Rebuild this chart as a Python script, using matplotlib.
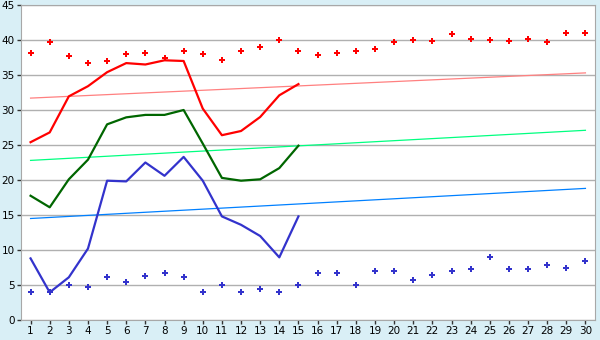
import numpy as np
import matplotlib
matplotlib.use('Agg')
import matplotlib.pyplot as plt

days = list(range(1, 31))
days15 = list(range(1, 16))

red_pts = [38.1, 39.7, 37.7, 36.7, 37.0, 38.0, 38.1, 37.5, 38.4, 38.0,
           37.2, 38.5, 39.0, 40.0, 38.4, 37.8, 38.1, 38.4, 38.7, 39.7,
           40.0, 39.8, 40.8, 40.1, 40.0, 39.8, 40.1, 39.7, 40.95, 40.95]
blue_pts = [4.0, 4.0, 5.0, 4.7, 6.1, 5.4, 6.25, 6.7, 6.1, 4.0,
            5.0, 4.0, 4.5, 4.0, 5.0, 6.7, 6.7, 5.0, 6.95, 6.95,
            5.7, 6.4, 6.95, 7.25, 8.95, 7.25, 7.25, 7.8, 7.4, 8.5]

red_line = [25.4, 26.8, 31.95, 33.4, 35.4, 36.7, 36.5, 37.1, 37.0, 30.2,
            26.4, 27.0, 29.0, 32.1, 33.7]
green_line = [17.75, 16.1, 20.1, 22.9, 27.95, 28.95, 29.3, 29.3, 30.0, 25.2,
              20.3, 19.9, 20.1, 21.7, 24.9]
blue_line = [8.8, 3.95, 6.1, 10.2, 19.9, 19.8, 22.5, 20.6, 23.3, 19.9,
             14.8, 13.6, 12.0, 8.95, 14.8]

# trend lines, value at day 1 and day 30
trend_x = [1, 30]
red_trend = [31.7, 35.3]
green_trend = [22.8, 27.1]
blue_trend = [14.5, 18.8]

bg = '#d9eff6'
fig = plt.figure(figsize=(6, 3.4), dpi=100, facecolor=bg)
ax = fig.add_axes([21 / 600, 20 / 340, 574 / 600, 315 / 340])
ax.set_facecolor('white')

ax.plot(trend_x, red_trend, color='#ff8080', lw=0.9, zorder=2)
ax.plot(trend_x, green_trend, color='#00ff80', lw=0.9, zorder=2)
ax.plot(trend_x, blue_trend, color='#0080ff', lw=0.9, zorder=2)

ax.plot(days15, red_line, color='#ff0000', lw=1.6, zorder=3)
ax.plot(days15, green_line, color='#006600', lw=1.6, zorder=3)
ax.plot(days15, blue_line, color='#3333cc', lw=1.6, zorder=3)

ax.plot(days, red_pts, ls='none', marker='P', ms=4.8, color='#ff0000', mew=0, zorder=4)
ax.plot(days, blue_pts, ls='none', marker='P', ms=4.8, color='#3333cc', mew=0, zorder=4)

ax.set_xlim(0.5, 30.5)
ax.set_ylim(0, 45)
ax.set_xticks(days)
ax.set_yticks(range(0, 46, 5))
ax.yaxis.grid(True, color='#b0b0b0', lw=1)
ax.set_axisbelow(True)
for s in ax.spines.values():
    s.set_color('#a8a8a8')
ax.tick_params(axis='both', colors='#333333', labelcolor='black', labelsize=7.5,
               length=3, width=1, pad=1.5)

fig.savefig('out.png', dpi=100, facecolor=bg)
